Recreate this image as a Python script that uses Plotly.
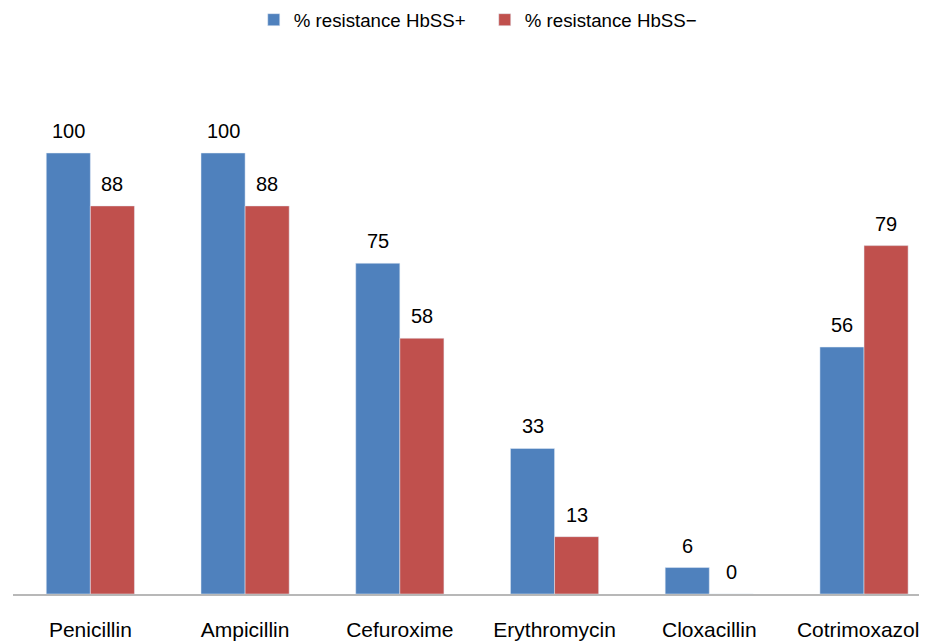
import plotly.graph_objects as go

categories = ["Penicillin", "Ampicillin", "Cefuroxime", "Erythromycin", "Cloxacillin", "Cotrimoxazole"]
hbss_pos = [100, 100, 75, 33, 6, 56]
hbss_neg = [88, 88, 58, 13, 0, 79]
series_names = ["% resistance HbSS+", "% resistance HbSS\u2212"]
colors = ["#4F81BD", "#C0504D"]

FONT = "Liberation Sans, Arial, sans-serif"

fig = go.Figure()
fig.add_trace(go.Bar(x=categories, y=hbss_pos, name=series_names[0], marker_color=colors[0]))
fig.add_trace(go.Bar(x=categories, y=hbss_neg, name=series_names[1], marker_color=colors[1]))

annotations = []
for vals, shift in ((hbss_pos, -22), (hbss_neg, 22)):
    for c, v in zip(categories, vals):
        annotations.append(dict(x=c, y=v, xref="x", yref="y", text=str(v), showarrow=False,
                                xshift=shift, yshift=22, yanchor="middle",
                                font=dict(family=FONT, size=20, color="#000000")))

fig.update_layout(
    width=919, height=633,
    margin=dict(l=5, r=0, t=34, b=47),
    paper_bgcolor="white", plot_bgcolor="white",
    barmode="group", bargap=0.43, bargroupgap=0,
    font=dict(family=FONT, color="#000000"),
    legend=dict(orientation="h", x=0.2634, xanchor="left", y=0.981, yanchor="middle",
                yref="container",
                entrywidth=186, bgcolor="rgba(0,0,0,0)",
                font=dict(family=FONT, size=18.7, color="#000000")),
    annotations=annotations,
    xaxis=dict(range=[-0.5, 5.407], showline=True, linecolor="#b8b8b8", linewidth=2,
               ticks="", showgrid=False, zeroline=False, automargin=False,
               tickfont=dict(family=FONT, size=21, color="#000000"), ticklabelstandoff=16),
    yaxis=dict(range=[0, 125.17], visible=False, showgrid=False, zeroline=False),
)

fig.write_html("out.html")
